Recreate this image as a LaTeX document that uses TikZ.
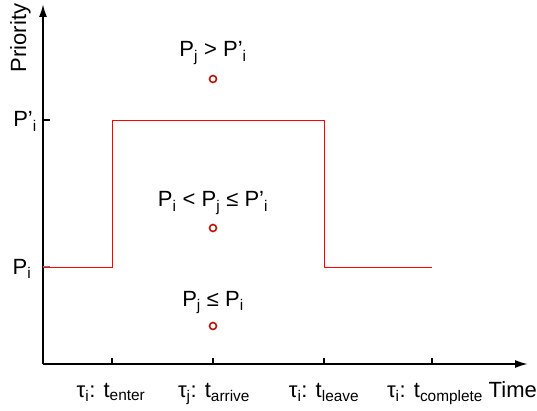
\documentclass[tikz,border=0pt]{standalone}
\usepackage{fontspec}
\setmainfont{Liberation Sans}
\usetikzlibrary{arrows.meta}
\newcommand{\sub}[1]{\textsubscript{#1}}
\begin{document}
\begin{tikzpicture}[x=1pt,y=-1pt,
  axis/.style={line width=1.8pt,-{Latex[length=13pt,width=8pt]}},
  tick/.style={line width=1.3pt},
  lbl/.style={font=\fontsize{22}{24}\selectfont,inner sep=0pt},
  curve/.style={red,line width=0.9pt},
  pt/.style={circle,draw={rgb,255:red,180;green,20;blue,10},line width=1.6pt,minimum size=7pt,inner sep=0pt}]
\useasboundingbox (0,0) rectangle (537,411);
\coordinate (O) at (43,364);
\coordinate (Ytop) at (43,4);
\coordinate (Xend) at (528,364);
\draw[axis] (O) -- (Ytop);
\draw[axis] (O) -- (Xend);
% y ticks
\coordinate (yP1) at (43,120);
\coordinate (yP0) at (43,267);
\draw[tick] (yP1) -- ++(7,0);
\draw[tick,gray] (yP0) -- ++(7,0);
% x ticks
\foreach \n/\x in {a/112,b/213,c/324,d/432}{
  \coordinate (x\n) at (\x,364);
  \draw[tick] (x\n) -- ++(0,-6);
}
% red curve
\coordinate (c1) at (112,267);
\coordinate (c2) at (112,120);
\coordinate (c3) at (324,120);
\coordinate (c4) at (324,267);
\coordinate (c5) at (432,267);
\draw[curve] (yP0) -- (c1) -- (c2) -- (c3) -- (c4) -- (c5);
% points
\node[pt] (p1) at (213,79) {};
\node[pt] (p2) at (213,228) {};
\node[pt] (p3) at (213,326) {};
% labels
\node[lbl,anchor=base] (l1) at (213,57) {P\sub{j} > P’\sub{i}};
\node[lbl,anchor=base] (l2) at (213,207) {P\sub{i} < P\sub{j} ≤ P’\sub{i}};
\node[lbl,anchor=base] (l3) at (213,306) {P\sub{j} ≤ P\sub{i}};
\node[lbl,anchor=base] (yl1) at (25,127) {P’\sub{i}};
\node[lbl,anchor=base] (yl0) at (22,274) {P\sub{i}};
\node[lbl,rotate=90,anchor=base] (pr) at (26,38) {Priority};
\node[lbl,anchor=base] (t1) at (111,397) {τ\sub{i}: t\sub{enter}};
\node[lbl,anchor=base] (t2) at (214,397) {τ\sub{j}: t\sub{arrive}};
\node[lbl,anchor=base] (t3) at (324,397) {τ\sub{i}: t\sub{leave}};
\node[lbl,anchor=base] (t4) at (435,397) {τ\sub{i}: t\sub{complete}};
\node[lbl,anchor=base east] (tm) at (537,397) {Time};
\end{tikzpicture}
\end{document}
